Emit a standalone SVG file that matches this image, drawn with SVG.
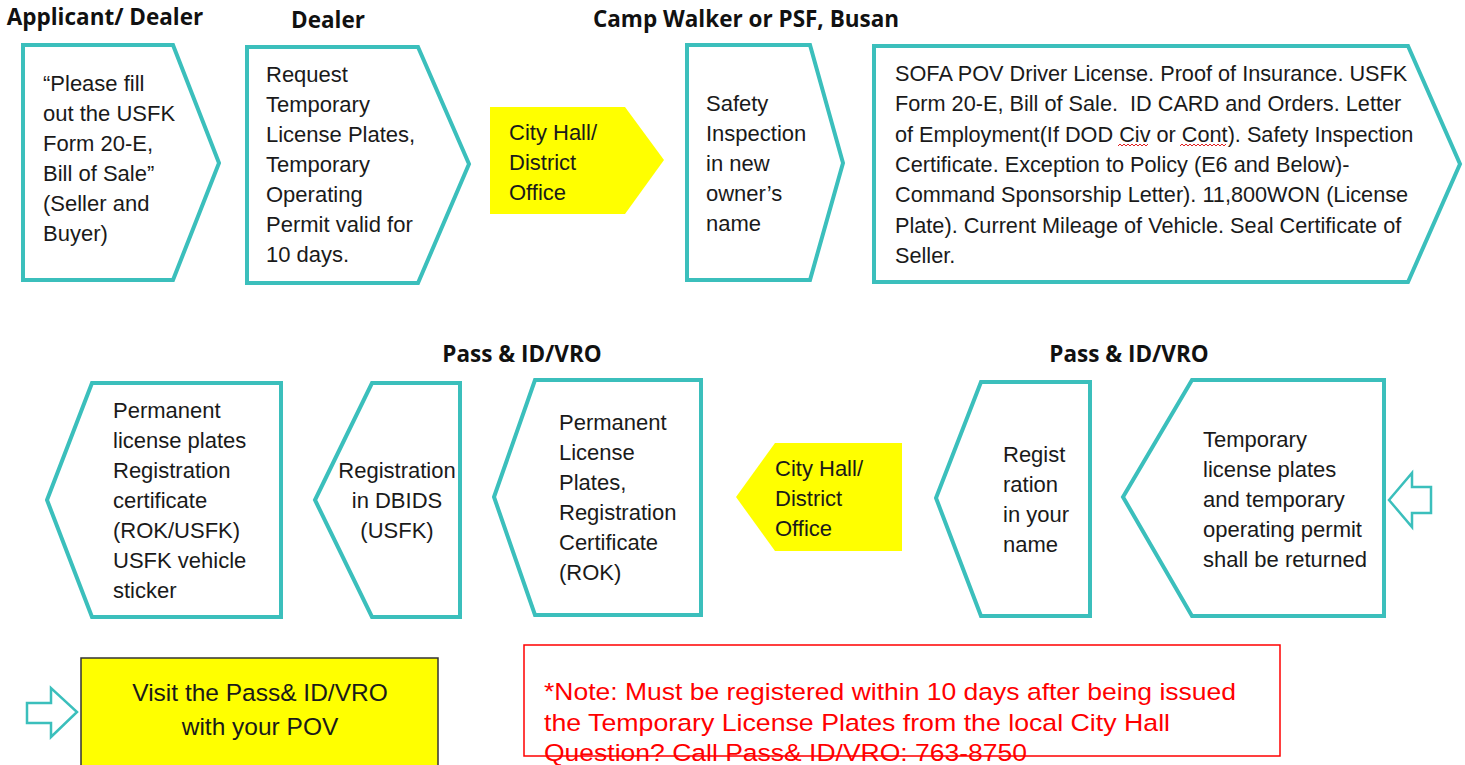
<svg xmlns="http://www.w3.org/2000/svg" width="1465" height="765" viewBox="0 0 1465 765">
<style>
.box{fill:#fff;stroke:#3BBFBC;stroke-width:4;stroke-linejoin:miter}
.yel{fill:#FFFF00;stroke:none}
.t{font-family:"Liberation Sans",Arial,sans-serif;font-size:22px;fill:#1a1a1a}
.h{font-family:"Open Sans","Liberation Sans",sans-serif;font-weight:700;font-size:22.5px;fill:#111}
.arr{fill:#fff;stroke:#3BBFBC;stroke-width:2.5;stroke-linejoin:miter}
.wavy{fill:none;stroke:#e02020;stroke-width:1}
</style>
<rect width="1465" height="765" fill="#fff"/>

<g id="headers">
<text class="h" x="105" y="25" text-anchor="middle">Applicant/ Dealer</text>
<text class="h" x="328" y="28" text-anchor="middle">Dealer</text>
<text class="h" x="746" y="27" text-anchor="middle">Camp Walker or PSF, Busan</text>
<text class="h" x="522" y="362" text-anchor="middle">Pass &amp; ID/VRO</text>
<text class="h" x="1129" y="362" text-anchor="middle">Pass &amp; ID/VRO</text>
</g>

<g id="node-applicant">
<polygon class="box" points="23,45 173,45 219,163 173,280 23,280"/>
<text class="t" x="43" y="91"><tspan x="43">“Please fill</tspan><tspan x="43" dy="30">out the USFK</tspan><tspan x="43" dy="30">Form 20-E,</tspan><tspan x="43" dy="30">Bill of Sale”</tspan><tspan x="43" dy="30">(Seller and</tspan><tspan x="43" dy="30">Buyer)</tspan></text>
</g>

<g id="node-dealer">
<polygon class="box" points="247,47 418,47 469,164 418,283 247,283"/>
<text class="t" x="266" y="82"><tspan x="266">Request</tspan><tspan x="266" dy="30">Temporary</tspan><tspan x="266" dy="30">License Plates,</tspan><tspan x="266" dy="30">Temporary</tspan><tspan x="266" dy="30">Operating</tspan><tspan x="266" dy="30">Permit valid for</tspan><tspan x="266" dy="30">10 days.</tspan></text>
</g>

<g id="node-cityhall-top">
<polygon class="yel" points="490,107 625,107 664,160 625,214 490,214"/>
<text class="t" x="509" y="140"><tspan x="509">City Hall/</tspan><tspan x="509" dy="30">District</tspan><tspan x="509" dy="30">Office</tspan></text>
</g>

<g id="node-safety">
<polygon class="box" points="687,45 810,45 843,163 810,280 687,280"/>
<text class="t" x="706" y="111"><tspan x="706">Safety</tspan><tspan x="706" dy="30">Inspection</tspan><tspan x="706" dy="30">in new</tspan><tspan x="706" dy="30">owner’s</tspan><tspan x="706" dy="30">name</tspan></text>
</g>

<g id="node-documents">
<polygon class="box" points="874,46 1408,46 1460,164 1408,282 874,282"/>
<text class="t" x="895" y="81" style="font-size:21.7px"><tspan x="895">SOFA POV Driver License. Proof of Insurance. USFK</tspan><tspan x="895" dy="30.3">Form 20-E, Bill of Sale.&#160; ID CARD and Orders. Letter</tspan><tspan x="895" dy="30.3">of Employment(If DOD Civ or Cont). Safety Inspection</tspan><tspan x="895" dy="30.3">Certificate. Exception to Policy (E6 and Below)-</tspan><tspan x="895" dy="30.3">Command Sponsorship Letter). 11,800WON (License</tspan><tspan x="895" dy="30.3">Plate). Current Mileage of Vehicle. Seal Certificate of</tspan><tspan x="895" dy="30.3">Seller.</tspan></text>
<path class="wavy" d="M1118,146 l2,-2 l2,2 l2,-2 l2,2 l2,-2 l2,2 l2,-2 l2,2 l2,-2 l2,2 l2,-2 l2,2 l2,-2 l2,2 l2,-2"/>
<path class="wavy" d="M1180,146 l2,-2 l2,2 l2,-2 l2,2 l2,-2 l2,2 l2,-2 l2,2 l2,-2 l2,2 l2,-2 l2,2 l2,-2 l2,2 l2,-2 l2,2 l2,-2 l2,2 l2,-2 l2,2 l2,-2 l2,2 l2,-2"/>
</g>

<g id="node-permanent-final">
<polygon class="box" points="47,500 92,383 281,383 281,617 92,617"/>
<text class="t" x="113" y="418"><tspan x="113">Permanent</tspan><tspan x="113" dy="30">license plates</tspan><tspan x="113" dy="30">Registration</tspan><tspan x="113" dy="30">certificate</tspan><tspan x="113" dy="30">(ROK/USFK)</tspan><tspan x="113" dy="30">USFK vehicle</tspan><tspan x="113" dy="30">sticker</tspan></text>
</g>

<g id="node-dbids">
<polygon class="box" points="315,500 372,383 460,383 460,617 372,617"/>
<text class="t" x="397" y="478" text-anchor="middle"><tspan x="397">Registration</tspan><tspan x="397" dy="30">in DBIDS</tspan><tspan x="397" dy="30">(USFK)</tspan></text>
</g>

<g id="node-permanent-rok">
<polygon class="box" points="494,497 535,380 701,380 701,615 535,615"/>
<text class="t" x="559" y="430"><tspan x="559">Permanent</tspan><tspan x="559" dy="30">License</tspan><tspan x="559" dy="30">Plates,</tspan><tspan x="559" dy="30">Registration</tspan><tspan x="559" dy="30">Certificate</tspan><tspan x="559" dy="30">(ROK)</tspan></text>
</g>

<g id="node-cityhall-bottom">
<polygon class="yel" points="736,497 775,443 902,443 902,551 775,551"/>
<text class="t" x="775" y="476"><tspan x="775">City Hall/</tspan><tspan x="775" dy="30">District</tspan><tspan x="775" dy="30">Office</tspan></text>
</g>

<g id="node-registration-name">
<polygon class="box" points="936,498 981,382 1090,382 1090,616 981,616"/>
<text class="t" x="1003" y="462"><tspan x="1003">Regist</tspan><tspan x="1003" dy="30">ration</tspan><tspan x="1003" dy="30">in your</tspan><tspan x="1003" dy="30">name</tspan></text>
</g>

<g id="node-temporary-return">
<polygon class="box" points="1123,497 1192,380 1384,380 1384,616 1192,616"/>
<text class="t" x="1203" y="447"><tspan x="1203">Temporary</tspan><tspan x="1203" dy="30">license plates</tspan><tspan x="1203" dy="30">and temporary</tspan><tspan x="1203" dy="30">operating permit</tspan><tspan x="1203" dy="30">shall be returned</tspan></text>
</g>

<g id="node-visit">
<rect x="81" y="658" width="357" height="120" fill="#FFFF00" stroke="#333" stroke-width="1.5"/>
<text class="t" x="260" y="701" text-anchor="middle" style="font-size:24.5px"><tspan x="260">Visit the Pass&amp; ID/VRO</tspan><tspan x="260" dy="34">with your POV</tspan></text>
</g>

<g id="node-note">
<rect x="524" y="645" width="756" height="111" fill="none" stroke="#FF0000" stroke-width="1.5"/>
<text class="t" style="font-size:24.5px;fill:#FF0000" x="544" y="700"><tspan x="544" textLength="692" lengthAdjust="spacingAndGlyphs">*Note: Must be registered within 10 days after being issued</tspan><tspan x="544" y="731" textLength="626" lengthAdjust="spacingAndGlyphs">the Temporary License Plates from the local City Hall</tspan><tspan x="544" y="761" textLength="483" lengthAdjust="spacingAndGlyphs">Question? Call Pass&amp; ID/VRO: 763-8750</tspan></text>
</g>

<g id="connectors">
<polygon class="arr" points="1389,500 1412,473 1412,487 1431,487 1431,513 1412,513 1412,527"/>
<polygon class="arr" points="27,703 51,703 51,688 77,712 51,737 51,723 27,723"/>
</g>
</svg>
